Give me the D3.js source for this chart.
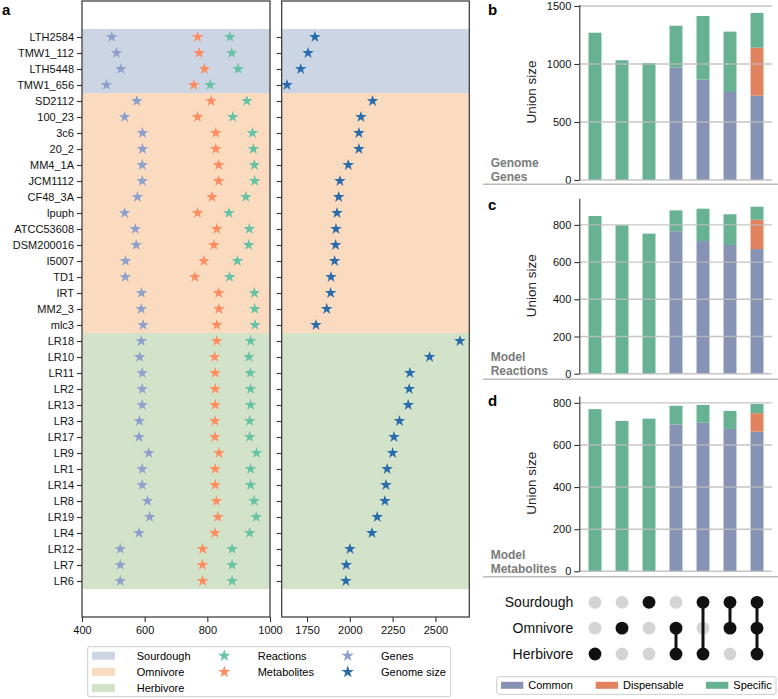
<!DOCTYPE html>
<html>
<head>
<meta charset="utf-8">
<script src="https://cdn.jsdelivr.net/npm/d3@7"></script>
<style>
  body { margin: 0; background: #fff; }
  svg { font-family: Arial, "Liberation Sans", sans-serif; }
</style>
</head>
<body>
<svg width="778" height="699"></svg>
<script>
const svg = d3.select("svg");

// strains, top to bottom
const strains = ["LTH2584","TMW1_112","LTH5448","TMW1_656","SD2112","100_23","3c6","20_2","MM4_1A","JCM1112",
  "CF48_3A","lpuph","ATCC53608","DSM200016","I5007","TD1","IRT","MM2_3","mlc3",
  "LR18","LR10","LR11","LR2","LR13","LR3","LR17","LR9","LR1","LR14","LR8","LR19","LR4","LR12","LR7","LR6"];
const hostGroups = ["Sourdough","Omnivore","Herbivore"];
const groupSizes = [4, 15, 16];

const genes = [495,510,524,478,575,536,593,593,592,592,577,536,570,573,539,538,590,589,595,
  589,584,592,592,592,583,582,613,592,592,609,616,582,522,522,522];
const metabolites = [769,774,791,757,812,769,827,827,836,836,815,769,830,821,789,760,836,837,830,
  830,823,825,825,825,824,824,837,825,825,829,834,824,785,784,785];
const reactions = [872,878,898,809,926,881,944,947,950,951,923,869,934,932,896,871,950,951,952,
  938,933,937,938,938,935,935,957,938,938,949,956,935,879,879,879];
const genomeSize = [1796,1756,1713,1633,2133,2065,2053,2053,1991,1942,1935,1925,1919,1917,1911,1890,1888,1865,1802,
  2643,2466,2351,2347,2341,2290,2258,2250,2218,2211,2205,2160,2129,2001,1979,1977];

// upset intersections (columns)
const intersections = [["Herbivore"],["Omnivore"],["Sourdough"],["Omnivore","Herbivore"],
  ["Sourdough","Herbivore"],["Sourdough","Omnivore"],["Sourdough","Omnivore","Herbivore"]];
const genesCommon = [0,0,0,968,865,759,727];
const genesDispensable = [0,0,0,0,0,0,414];
const genesSpecific = [1270,1032,1009,362,549,520,299];
const reactCommon = [0,0,0,766,713,692,670];
const reactDispensable = [0,0,0,0,0,0,158];
const reactSpecific = [848,798,753,112,174,165,70];
const metabCommon = [0,0,0,697,706,676,663];
const metabDispensable = [0,0,0,0,0,0,88];
const metabSpecific = [770,714,725,89,84,86,44];
const parts = ["Common","Dispensable","Specific"];

const bandColor = {Sourdough: "#cbd5e4", Omnivore: "#fbdbbf", Herbivore: "#d3e3c9"};
const cGenes = "#8da0cb", cMetab = "#fc8d62", cReact = "#66c2a5", cGenome = "#2a6cab";
const partColor = {Common: "#8793b5", Dispensable: "#e1835f", Specific: "#67b293"};

// ---------- panel a ----------
const yRow = d3.scaleLinear([-2.25, 36.25], [1, 617]);
const xA = d3.scaleLinear([400, 1000], [82, 270]);
const xG = d3.scaleLinear([1602, 2698], [281.7, 469.3]);
const star = d3.symbol(d3.symbolStar, 42);

let runs = [], start = 0;
groupSizes.forEach((n, i) => { runs.push({g: hostGroups[i], s: start, e: start + n - 1}); start += n; });

function bands(x) {
  svg.append("g").selectAll("rect").data(runs).join("rect")
    .attr("x", x.range()[0]).attr("width", x.range()[1] - x.range()[0])
    .attr("y", d => yRow(d.s - 0.5)).attr("height", d => yRow(d.e + 0.5) - yRow(d.s - 0.5))
    .attr("fill", d => bandColor[d.g]);
}
bands(xA);
bands(xG);

function stars(x, vals, color) {
  svg.append("g").selectAll("path").data(vals).join("path")
    .attr("d", star)
    .attr("transform", (d, i) => `translate(${x(d)},${yRow(i)})`)
    .attr("fill", color);
}
stars(xA, genes, cGenes);
stars(xA, metabolites, cMetab);
stars(xA, reactions, cReact);
stars(xG, genomeSize, cGenome);

function frame(x) {
  svg.append("rect").attr("x", x.range()[0]).attr("y", 1)
    .attr("width", x.range()[1] - x.range()[0]).attr("height", 616)
    .attr("fill", "none").attr("stroke", "#333").attr("stroke-width", 1.2);
}
frame(xA);
frame(xG);

function styleAxis(g) {
  g.attr("font-family", null).attr("font-size", null);
  g.selectAll("line").attr("stroke", "#333").attr("stroke-width", 1.1);
  g.selectAll("text").attr("font-size", 11).attr("fill", "#111");
}

const yAx = svg.append("g").attr("transform", "translate(82,0)")
  .call(d3.axisLeft(yRow).tickValues(d3.range(strains.length)).tickFormat(i => strains[i]).tickSize(5).tickPadding(3).tickSizeOuter(0));
const yAx2 = svg.append("g").attr("transform", "translate(281.7,0)")
  .call(d3.axisLeft(yRow).tickValues(d3.range(strains.length)).tickFormat("").tickSize(5).tickSizeOuter(0));
const xAx = svg.append("g").attr("transform", "translate(0,617)")
  .call(d3.axisBottom(xA).tickValues([400, 600, 800, 1000]).tickFormat(d3.format("d")).tickSize(5).tickPadding(4).tickSizeOuter(0));
const xAx2 = svg.append("g").attr("transform", "translate(0,617)")
  .call(d3.axisBottom(xG).tickValues([1750, 2000, 2250, 2500]).tickFormat(d3.format("d")).tickSize(5).tickPadding(4).tickSizeOuter(0));
[yAx, yAx2, xAx, xAx2].forEach(g => {
  g.select(".domain").remove();
  styleAxis(g);
});

svg.append("text").attr("x", 2).attr("y", 15).text("a")
  .attr("font-size", 15).attr("font-weight", "bold");

// legend a
const legA = svg.append("g");
legA.append("rect").attr("x", 87.7).attr("y", 646.7).attr("width", 363).attr("height", 50)
  .attr("fill", "#fff").attr("stroke", "#ccc").attr("rx", 2);
hostGroups.forEach((g, i) => {
  const y = 655.7 + i * 16.2;
  legA.append("rect").attr("x", 92).attr("y", y - 4).attr("width", 23).attr("height", 8).attr("fill", bandColor[g]);
  legA.append("text").attr("x", 136.7).attr("y", y).attr("dy", "0.35em").attr("font-size", 11).text(g);
});
[["Reactions", cReact, 224.3, 257.7, 0], ["Metabolites", cMetab, 224.3, 257.7, 1],
 ["Genes", cGenes, 347.7, 381, 0], ["Genome size", cGenome, 347.7, 381, 1]].forEach(([t, c, sx, tx, r]) => {
  const y = 655.7 + r * 16.2;
  legA.append("path").attr("d", d3.symbol(d3.symbolStar, 48)).attr("transform", `translate(${sx},${y})`).attr("fill", c);
  legA.append("text").attr("x", tx).attr("y", y).attr("dy", "0.35em").attr("font-size", 11).text(t);
});

// ---------- panels b, c, d ----------
const xBar = d3.scaleBand(d3.range(intersections.length), [581.5, 770.5]).paddingInner(0.52).paddingOuter(0.26);

function barPanel(opts) {
  const y = d3.scaleLinear([0, opts.max], [opts.y0, opts.y0 - 175.4]);
  const rows = d3.range(intersections.length).map(i => ({
    Common: opts.common[i], Dispensable: opts.disp[i], Specific: opts.spec[i]}));
  const stacked = d3.stack().keys(parts)(rows);
  const g = svg.append("g");
  g.selectAll("g").data(stacked).join("g").attr("fill", s => partColor[s.key])
    .selectAll("rect").data(s => s).join("rect")
    .attr("x", (d, i) => xBar(i)).attr("width", xBar.bandwidth())
    .attr("y", d => y(d[1])).attr("height", d => y(d[0]) - y(d[1]));
  g.append("g").selectAll("line").data(opts.ticks).join("line")
    .attr("x1", 579.3).attr("x2", 772).attr("y1", d => y(d)).attr("y2", d => y(d))
    .attr("stroke", "#bdbdbd").attr("stroke-width", 1.4).attr("opacity", 0.85);
  const ax = g.append("g").attr("transform", "translate(579.3,0)")
    .call(d3.axisLeft(y).tickValues(opts.ticks).tickFormat(d3.format("d")).tickSize(5).tickPadding(3).tickSizeOuter(0));
  ax.select(".domain").attr("stroke", "#333").attr("stroke-width", 1.1);
  styleAxis(ax);
  g.append("text").attr("transform", `translate(531.7,${opts.y0 - 88}) rotate(-90)`)
    .attr("text-anchor", "middle").attr("dy", "0.35em").attr("font-size", 13.5).attr("fill", "#222").text("Union size");
  opts.label.forEach((t, i) => {
    g.append("text").attr("x", 490.7).attr("y", opts.labelY + i * 14.3).text(t)
      .attr("font-size", 12).attr("font-weight", "bold").attr("fill", "#7a7a7a");
  });
  g.append("text").attr("x", 488).attr("y", opts.letterY).text(opts.letter)
    .attr("font-size", 15).attr("font-weight", "bold");
  g.append("line").attr("x1", 483).attr("x2", 778).attr("y1", opts.sep).attr("y2", opts.sep)
    .attr("stroke", "#bbb").attr("stroke-width", 1.4);
}

barPanel({y0: 180, max: 1512, ticks: [0, 500, 1000, 1500], common: genesCommon, disp: genesDispensable,
  spec: genesSpecific, label: ["Genome", "Genes"], labelY: 167, letter: "b", letterY: 15, sep: 184.3});
barPanel({y0: 373.7, max: 943, ticks: [0, 200, 400, 600, 800], common: reactCommon, disp: reactDispensable,
  spec: reactSpecific, label: ["Model", "Reactions"], labelY: 361, letter: "c", letterY: 210, sep: 379.3});
barPanel({y0: 571.3, max: 833, ticks: [0, 200, 400, 600, 800], common: metabCommon, disp: metabDispensable,
  spec: metabSpecific, label: ["Model", "Metabolites"], labelY: 558.5, letter: "d", letterY: 406, sep: 576.7});

// ---------- upset matrix ----------
const yMat = d3.scalePoint(hostGroups, [602.3, 654]);
const mat = svg.append("g");
hostGroups.forEach(h => {
  mat.append("text").attr("x", 573.3).attr("y", yMat(h)).attr("dy", "0.35em")
    .attr("text-anchor", "end").attr("font-size", 14).attr("fill", "#111").text(h);
});
intersections.forEach((sets, i) => {
  const cx = xBar(i) + xBar.bandwidth() / 2;
  const ys = sets.map(s => yMat(s));
  hostGroups.forEach(h => {
    mat.append("circle").attr("cx", cx).attr("cy", yMat(h)).attr("r", 6.4)
      .attr("fill", sets.includes(h) ? "#111" : "#d4d4d4");
  });
  if (sets.length > 1) {
    mat.append("line").attr("x1", cx).attr("x2", cx).attr("y1", d3.min(ys)).attr("y2", d3.max(ys))
      .attr("stroke", "#111").attr("stroke-width", 3);
  }
});

// legend bottom right
const legB = svg.append("g");
legB.append("rect").attr("x", 496.7).attr("y", 676.7).attr("width", 279.3).attr("height", 17.6)
  .attr("fill", "#fff").attr("stroke", "#ccc").attr("rx", 2);
[["Common", 501], ["Dispensable", 595.7], ["Specific", 706]].forEach(([t, x]) => {
  legB.append("rect").attr("x", x).attr("y", 681.8).attr("width", 22.3).attr("height", 7).attr("fill", partColor[t]);
  legB.append("text").attr("x", x + 27.3).attr("y", 685.5).attr("dy", "0.35em").attr("font-size", 11).text(t);
});
</script>
</body>
</html>
